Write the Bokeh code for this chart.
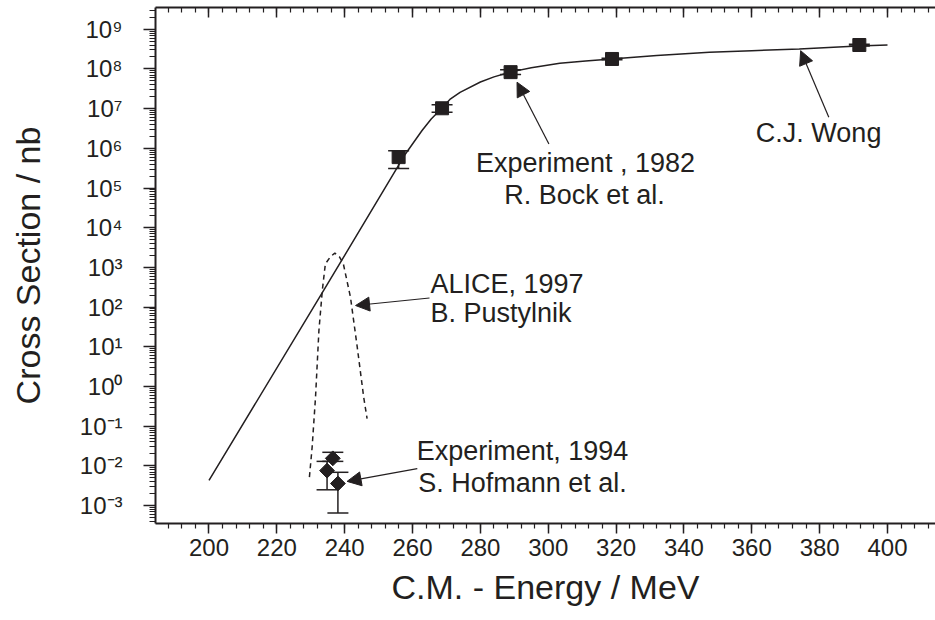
import math
from bokeh.plotting import figure
from bokeh.models import (Range1d, LinearAxis, FixedTicker, Label, Arrow, NormalHead,
                          Whisker, TeeHead, ColumnDataSource)
from bokeh.embed import file_html
from bokeh.resources import INLINE

# ---------------- data ----------------
# C.J. Wong curve (solid line): energy [MeV], cross section [nb]
wong_energy = [200.0, 233.8, 257.9, 262.8, 265.5, 268.6, 271.0, 274.0, 280.0, 284.0, 288.7,
               295.0, 303.4, 311.0, 318.6, 332.0, 347.5, 360.0, 374.0, 391.3, 400.0]
wong_sigma = [4.3e-3, 2.63e2, 7.2e5, 2.8e6, 5.5e6, 1.02e7, 1.7e7, 2.57e7, 4.68e7, 6.3e7, 8.3e7,
              1.07e8, 1.38e8, 1.58e8, 1.78e8, 2.19e8, 2.63e8, 2.88e8, 3.16e8, 3.8e8, 3.98e8]

# ALICE 1997 (B. Pustylnik) dashed curve
alice_energy = [229.6, 230.4, 231.4, 232.4, 233.4, 234.3, 235.8, 237.1, 238.5, 239.6, 241.7, 243.7, 245.6, 246.6]
alice_sigma = [5.2e-3, 2.95e-2, 0.537, 25.7, 263.0, 1230.0, 1860.0, 2290.0, 1820.0, 1230.0, 178.0, 9.77, 0.537, 0.155]

# Experiment 1982 (R. Bock et al.) squares with error bars
bock_energy = [255.9, 268.7, 288.9, 318.8, 391.7]
bock_sigma = [6.0e5, 1.02e7, 8.3e7, 1.78e8, 4.0e8]
bock_upper = [8.7e5, 1.26e7, 9.5e7, 1.86e8, 4.17e8]
bock_lower = [3.1e5, 8.1e6, 7.2e7, 1.70e8, 3.80e8]

# Experiment 1994 (S. Hofmann et al.) diamonds with error bars
hof_energy = [236.5, 234.8, 238.0]
hof_sigma = [1.55e-2, 7.6e-3, 3.6e-3]
hof_upper = [2.2e-2, 1.3e-2, 6.9e-3]
hof_lower = [1.3e-2, 2.5e-3, 6.5e-4]

# axis ticks and labels
x_ticks = [200, 220, 240, 260, 280, 300, 320, 340, 360, 380, 400]
y_ticks = [1e-3, 1e-2, 1e-1, 1e0, 1e1, 1e2, 1e3, 1e4, 1e5, 1e6, 1e7, 1e8, 1e9]
y_tick_labels = ["10⁻³", "10⁻²", "10⁻¹", "10⁰", "10¹", "10²", "10³",
                 "10⁴", "10⁵", "10⁶", "10⁷", "10⁸", "10⁹"]

x_title = "C.M. - Energy / MeV"
y_title = "Cross Section / nb"

# ---------------- styling ----------------
FONT = "Liberation Sans"
INK = "#231f20"

p = figure(width=935, height=620,
           x_range=Range1d(184.23, 414.15),
           y_range=Range1d(10 ** -3.451, 10 ** 9.547),
           y_axis_type="log",
           output_backend="svg", toolbar_location=None,
           min_border_left=155, min_border_right=0,
           min_border_top=7, min_border_bottom=97)
p.grid.visible = False
p.outline_line_color = None
p.background_fill_color = "white"
p.border_fill_color = "white"

x_minor = [184 + 4 * i for i in range(58)]
y_minor = [k * 10.0 ** n for n in range(-4, 10) for k in range(2, 10)]

# bottom axis
xa = p.xaxis[0]
xa.ticker = FixedTicker(ticks=x_ticks, minor_ticks=x_minor)
xa.axis_line_width = 2
xa.axis_line_color = INK
xa.major_tick_line_color = INK
xa.minor_tick_line_color = INK
xa.major_tick_line_width = 1.5
xa.minor_tick_line_width = 1.2
xa.major_tick_in = 0
xa.major_tick_out = 10
xa.minor_tick_in = 0
xa.minor_tick_out = 5
xa.major_label_text_font = FONT
xa.major_label_text_font_size = "24px"
xa.major_label_text_color = INK
xa.major_label_standoff = 5
xa.axis_label = x_title
xa.axis_label_text_font = FONT
xa.axis_label_text_font_size = "34px"
xa.axis_label_text_font_style = "normal"
xa.axis_label_text_color = INK
xa.axis_label_standoff = 9

# top axis (ticks only, pointing in)
top = LinearAxis(ticker=FixedTicker(ticks=x_ticks, minor_ticks=x_minor),
                 major_label_overrides={t: "" for t in x_ticks},
                 major_label_text_font_size="1px", major_label_standoff=0,
                 axis_line_width=2, axis_line_color=INK,
                 major_tick_line_color=INK, minor_tick_line_color=INK,
                 major_tick_line_width=1.5, minor_tick_line_width=1.2,
                 major_tick_in=10, major_tick_out=0, minor_tick_in=5, minor_tick_out=0)
p.add_layout(top, "above")

# left axis
ya = p.yaxis[0]
ya.ticker = FixedTicker(ticks=y_ticks, minor_ticks=y_minor)
ya.major_label_overrides = {t: s for t, s in zip(y_ticks, y_tick_labels)}
ya.axis_line_width = 2
ya.axis_line_color = INK
ya.major_tick_line_color = INK
ya.minor_tick_line_color = INK
ya.major_tick_line_width = 1.5
ya.minor_tick_line_width = 1.0
ya.major_tick_in = 0
ya.major_tick_out = 12
ya.minor_tick_in = 0
ya.minor_tick_out = 6
ya.major_label_text_font = FONT
ya.major_label_text_font_size = "24px"
ya.major_label_text_color = INK
ya.major_label_standoff = 21
ya.axis_label = y_title
ya.axis_label_text_font = FONT
ya.axis_label_text_font_size = "34px"
ya.axis_label_text_font_style = "normal"
ya.axis_label_text_color = INK
ya.axis_label_standoff = 30

# curves
p.line(wong_energy, wong_sigma, line_color=INK, line_width=1.5)
p.line(alice_energy, alice_sigma, line_color=INK, line_width=1.5, line_dash="5 4")

# error bars
bsrc = ColumnDataSource(dict(x=bock_energy, y=bock_sigma, hi=bock_upper, lo=bock_lower))
hsrc = ColumnDataSource(dict(x=hof_energy, y=hof_sigma, hi=hof_upper, lo=hof_lower))
for src in (bsrc, hsrc):
    w = Whisker(source=src, base="x", upper="hi", lower="lo", dimension="height",
                line_color=INK, line_width=1.5,
                upper_head=TeeHead(size=21, line_color=INK, line_width=1.5),
                lower_head=TeeHead(size=21, line_color=INK, line_width=1.5))
    p.add_layout(w)

p.scatter("x", "y", source=bsrc, marker="square", size=13, fill_color=INK, line_color=INK)
p.scatter("x", "y", source=hsrc, marker="square", size=10.5, angle=math.pi / 4,
          fill_color=INK, line_color=INK)

# annotations
def arrow(x0, y0, x1, y1):
    p.add_layout(Arrow(end=NormalHead(size=14, fill_color=INK, line_color=INK, line_width=1),
                       x_start=x0, y_start=y0, x_end=x1, y_end=y1,
                       line_color=INK, line_width=1.2))

def label(x, y, text, align="center"):
    p.add_layout(Label(x=x, y=y, text=text, text_font=FONT, text_font_size="27px",
                       text_color=INK, text_align=align, text_baseline="alphabetic",
                       y_offset=9))

arrow(300.2, 10 ** 6.11, 290.8, 10 ** 7.665)
label(311.0, 10 ** 5.40, "Experiment , 1982")
label(310.7, 10 ** 4.60, "R. Bock et al.")

arrow(382.7, 10 ** 6.78, 374.4, 10 ** 8.46)
label(379.7, 10 ** 6.15, "C.J. Wong")

arrow(265.0, 10 ** 2.23, 243.2, 10 ** 2.04)
label(265.3, 10 ** 2.36, "ALICE, 1997", align="left")
label(265.3, 10 ** 1.62, "B. Pustylnik", align="left")

arrow(261.4, 10 ** -2.07, 240.7, 10 ** -2.39)
label(292.4, 10 ** -1.86, "Experiment, 1994")
label(292.4, 10 ** -2.67, "S. Hofmann et al.")

open("out.html", "w").write(file_html(p, INLINE))
